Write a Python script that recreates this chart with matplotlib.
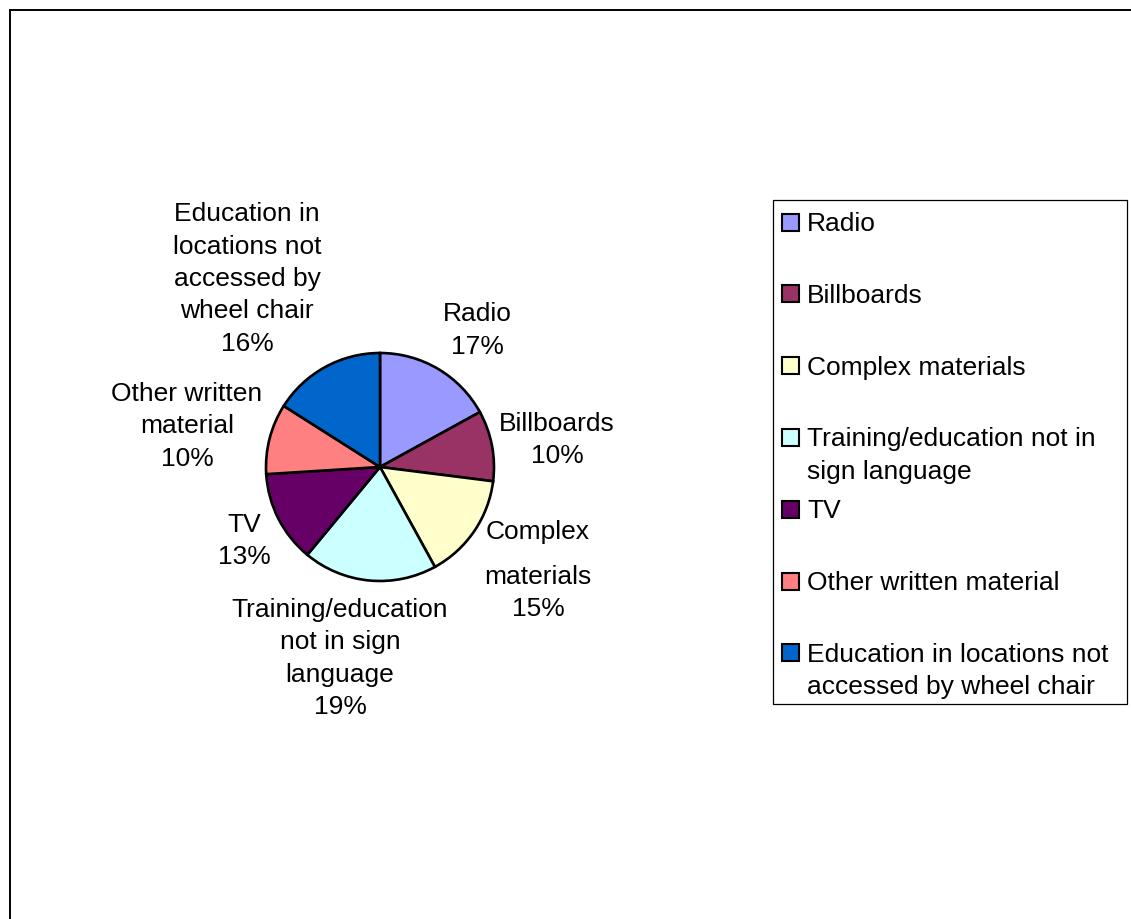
import matplotlib.pyplot as plt
from matplotlib.patches import Rectangle

plt.rcParams['font.family'] = ['Liberation Sans', 'DejaVu Sans']

# problems reported, share of answers (%)
categories = ["Radio", "Billboards", "Complex materials",
              "Training/education not in sign language", "TV",
              "Other written material",
              "Education in locations not accessed by wheel chair"]
shares = [17, 10, 15, 19, 13, 10, 16]
colors = ["#9999FF", "#993366", "#FFFFCC", "#CCFFFF", "#660066",
          "#FF8080", "#0066CC"]

# wrapped names next to the slices and in the legend
pie_names = ["Radio", "Billboards", "Complex\nmaterials",
             "Training/education\nnot in sign\nlanguage", "TV",
             "Other written\nmaterial",
             "Education in\nlocations not\naccessed by\nwheel chair"]
legend_names = ["Radio", "Billboards", "Complex materials",
                "Training/education not in\nsign language", "TV",
                "Other written material",
                "Education in locations not\naccessed by wheel chair"]

W, H = 1131, 920
FS = 19
STEP = 32.5

fig = plt.figure(figsize=(W / 100, H / 100), dpi=100)
ax = fig.add_axes([0, 0, 1, 1])


def fy(y):
    # pixel rows are counted from the top
    return H - y


ax.pie(shares, colors=colors, startangle=90, counterclock=False,
       center=(380, fy(468)), radius=114,
       wedgeprops=dict(edgecolor="black", linewidth=1.9))

# label anchors: x centre, y of each line (px from top)
label_x = [477, 557, 538, 340, 244, 187, 247]
label_y0 = [314, 424, 532, 610, 525, 394, 214]
for i, (name, v) in enumerate(zip(pie_names, shares)):
    lines = name.split("\n") + [f"{v}%"]
    y = label_y0[i]
    for j, line in enumerate(lines):
        ax.text(label_x[i], fy(y), line, ha="center", va="center",
                fontsize=FS)
        # the complex-materials label has a wider first gap
        y += 45 if (i == 2 and j == 0) else STEP

# legend box drawn by hand to keep the wide row spacing
ax.add_patch(Rectangle((773, fy(705)), 1127 - 773, 705 - 201,
                       facecolor="white", edgecolor="black", linewidth=0.9))
for i, (name, c) in enumerate(zip(legend_names, colors)):
    yc = 223 + 71.8 * i
    ax.add_patch(Rectangle((782, fy(yc + 8.5)), 17, 17, facecolor=c,
                           edgecolor="black", linewidth=1.5))
    for j, line in enumerate(name.split("\n")):
        ax.text(807, fy(yc + 1 + j * STEP), line, ha="left", va="center",
                fontsize=FS)

# outer chart-area border (left and top edges only are visible)
ax.plot([9.5, 9.5], [fy(11), fy(H + 5)], color="black", linewidth=1.4)
ax.plot([9.5, W + 5], [fy(11), fy(11)], color="black", linewidth=1.4)

ax.set_xlim(0, W)
ax.set_ylim(0, H)
ax.set_aspect("auto")
ax.axis("off")

fig.savefig("out.png", dpi=100)
